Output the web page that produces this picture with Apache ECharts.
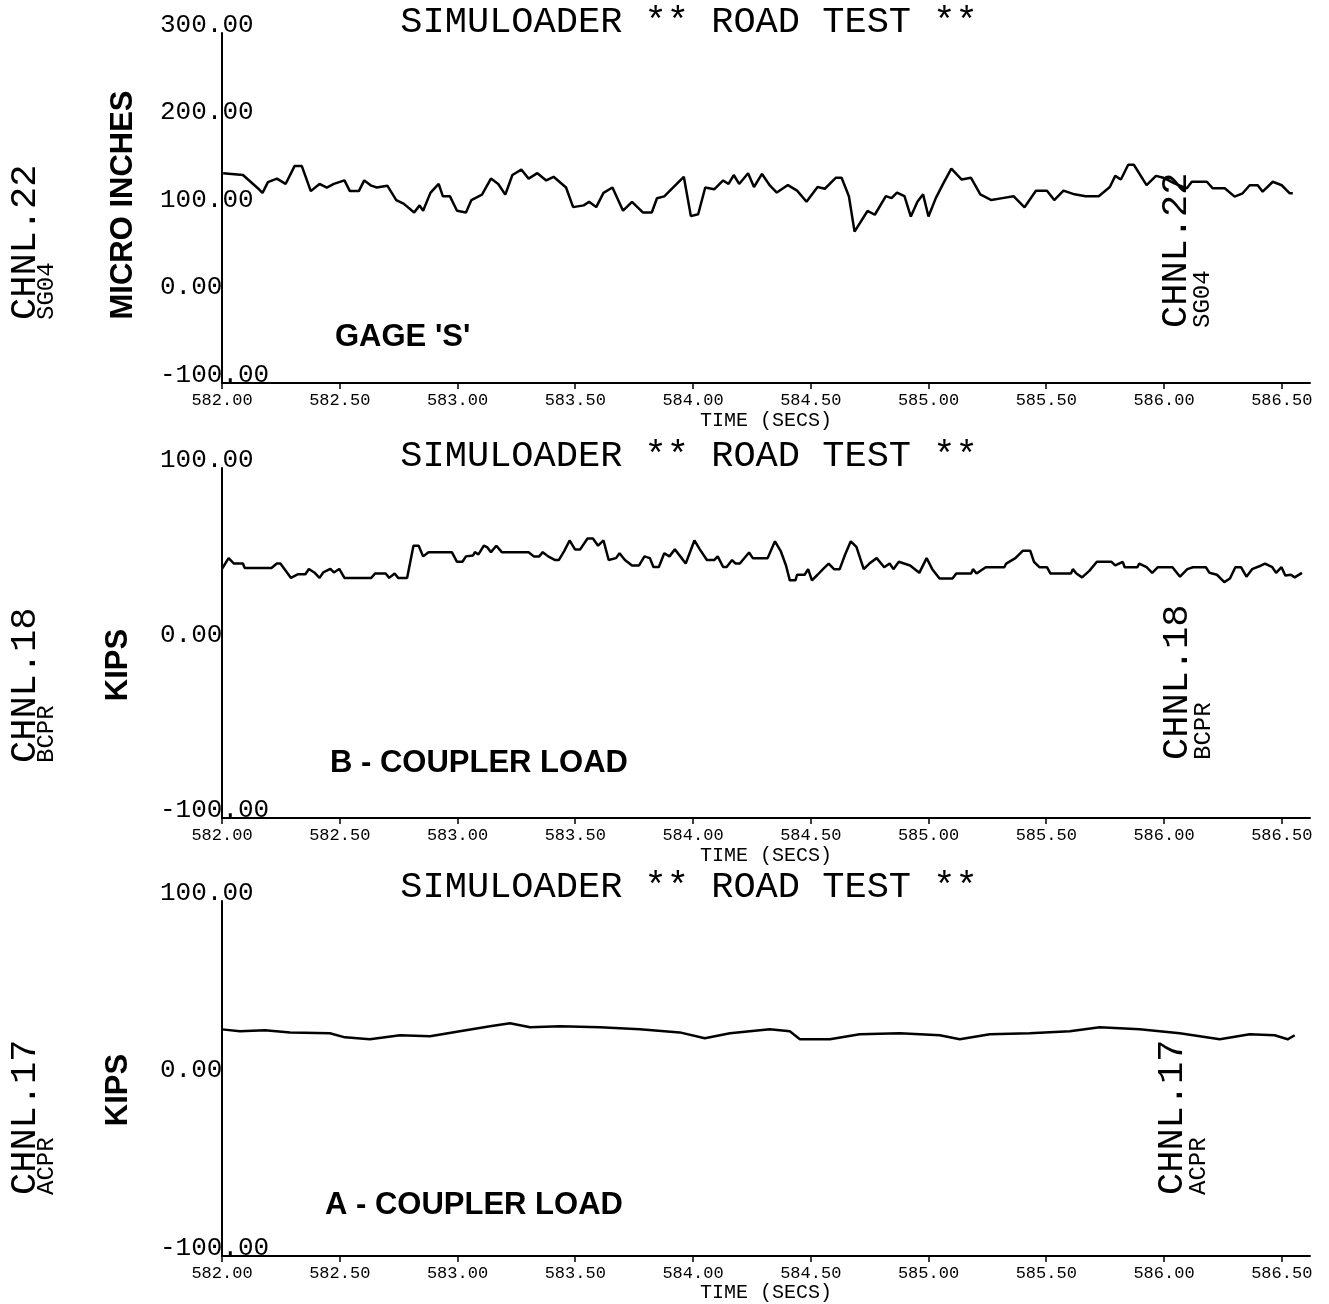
<!DOCTYPE html>
<html><head><meta charset="utf-8">
<script src="https://cdn.jsdelivr.net/npm/echarts@6/dist/echarts.min.js"></script>
<style>html,body{margin:0;padding:0;background:#fff}#c{width:1329px;height:1304px}</style>
</head><body><div id="c"></div>
<script>
// ---------- DATA ----------
const chartTitle = "SIMULOADER ** ROAD TEST **";
const xTitle = "TIME (SECS)";
const timeMin = 582, timeMax = 586.62, timeStep = 0.5;

// Channel 22 - Gage 'S' (micro inches)
const gageTime = [582.005,582.089,582.157,582.172,582.195,582.233,582.270,582.308,582.339,582.377,
582.414,582.445,582.475,582.520,582.543,582.581,582.604,582.634,582.657,582.702,
582.740,582.771,582.816,582.839,582.854,582.885,582.920,582.938,582.968,582.998,
583.036,583.059,583.104,583.142,583.173,583.203,583.233,583.271,583.302,583.339,
583.377,583.408,583.461,583.491,583.536,583.559,583.589,583.620,583.658,583.703,
583.741,583.787,583.825,583.847,583.878,583.931,583.961,583.991,584.022,584.052,
584.090,584.128,584.151,584.173,584.196,584.234,
584.259,584.293,584.325,584.356,584.403,584.442,584.482,584.529,584.560,584.607,
584.631,584.662,584.686,584.741,584.772,584.819,584.843,584.866,584.898,584.925,
584.953,584.977,585.000,585.031,585.063,585.097,585.141,585.180,585.220,585.267,
585.314,585.361,585.408,585.456,585.503,585.534,585.573,585.620,585.667,585.723,
585.770,585.793,585.817,585.848,585.872,585.926,585.966,585.997,586.044,
586.097,586.118,586.182,586.207,586.258,586.300,586.334,586.364,586.398,586.419,
586.462,586.500,586.534,586.547];
const gageValue = [139.8,137.7,121.4,117.3,129.6,133.6,127.5,147.9,147.9,119.3,
127.5,123.4,127.5,131.5,119.3,119.3,131.5,125.5,123.4,125.5,
109.1,105,94.9,103,96.9,117.3,127.5,113.3,113.3,96.9,
94.9,109.1,115.3,133.6,127.5,115.3,137.7,143.9,133.6,139.8,
131.5,135.7,123.4,101,103,107.1,101,117.3,123.4,96.9,
107.1,94.9,94.9,111.2,113.3,127.5,135.7,90.7,92.8,123.4,
121.4,131.5,127.5,137.7,127.5,139.8,
124,138.9,126.2,117.7,126.2,119.8,107.1,124,122,134.6,
134.6,113.5,73,96.6,92.3,113.5,111.3,117.7,113.5,90.2,
107.1,115.6,90.2,111.3,128.2,145.1,132.5,134.6,115.6,109.1,
111.3,113.5,100.8,119.8,119.8,109.1,119.8,115.6,113.5,113.5,
124,136.7,132.5,149.4,149.4,126.2,136.7,134.6,128.2,
122.5,130,130,122.5,122.5,113,116.8,126,126,118.6,
130,126,116.8,116.8];

// Channel 18 - B coupler load (kips)
const bTime = [582.000,582.028,582.051,582.089,582.096,582.210,582.233,582.248,582.293,582.323,
582.354,582.369,582.392,582.414,582.430,582.460,582.475,582.498,582.520,582.634,
582.650,582.695,582.710,582.733,582.748,582.786,582.813,582.835,582.854,582.877,
582.976,582.998,583.021,583.036,583.066,583.074,583.089,583.112,583.127,583.142,
583.165,583.188,583.302,583.324,583.347,583.362,583.385,583.415,583.430,583.453,
583.476,583.499,583.521,583.552,583.575,583.597,583.620,583.642,583.673,583.688,
583.711,583.741,583.771,583.794,583.817,583.832,583.855,583.878,583.900,583.923,
583.946,583.969,584.006,584.029,584.059,584.090,584.105,584.128,584.143,584.166,
584.181,584.199,584.238,584.254,584.317,584.348,584.372,584.395,584.411,584.435,
584.442,584.474,584.489,584.505,584.529,584.552,584.576,584.599,584.623,584.646,
584.670,584.694,584.725,584.749,584.780,584.812,584.835,584.851,584.874,584.922,
584.961,584.992,585.016,585.047,585.102,585.118,585.181,585.189,585.204,585.243,
585.322,585.330,585.369,585.400,585.432,585.448,585.471,585.503,585.518,585.605,
585.613,585.628,585.652,585.683,585.715,585.777,585.793,585.825,585.833,585.887,
585.895,585.926,585.950,585.974,586.036,586.068,586.099,586.123,586.178,586.193,
586.225,586.256,586.280,586.303,586.327,586.350,586.374,586.413,586.429,586.460,
586.476,586.499,586.515,586.539,586.555,586.586];
const bValue = [42.3,48.5,45.4,45.4,42.9,42.9,45.4,45.4,37.2,39.3,
39.3,42.3,40.3,37.2,40.3,42.3,40.3,42.3,37.2,37.2,
39.7,39.7,37.2,39.7,37.2,37.2,55.6,55.6,49.5,51.9,
51.9,46.4,46.4,49.5,50,51.9,50.6,55.6,54.6,51.9,
55.6,51.9,51.9,49.5,49.5,51.9,49.5,47.4,47.4,52.5,
58.6,53.5,53.5,59.7,59.7,55.6,58.6,47.4,48.5,51.3,
47.4,44.3,44.3,49.5,48.5,43.4,43.4,51.3,49.5,53.5,
49.5,45.4,58.6,53.5,47.4,47.4,49.5,43.4,43.4,47.4,
45.4,45.4,51.7,48.5,48.5,58.1,52.7,44.3,35.8,35.8,
39,39,42.2,35.8,39,42.2,45.4,42.2,42.2,50.6,
58.1,54.9,42.2,45.4,48.5,43.3,45.4,42.2,46.4,44.3,
40.1,48.5,42.2,36.9,36.9,39.7,39.7,42.2,39.7,43.3,
43.3,45.4,48.5,52.7,52.7,46.4,43.3,43.3,39.7,39.7,
42.2,39.7,37.5,41.2,46.4,46.4,44.3,46.4,43.3,43.3,
45.4,43.3,40.1,43.3,43.3,37.9,42.2,43.3,43.3,40.1,
39,34.8,36.9,43.3,43.3,37.9,42.2,44.3,45.4,43.3,
40.1,43.3,38.6,39,37.5,40.1];

// Channel 17 - A coupler load (kips)
const aTime = [582.000,582.076,582.183,582.289,582.458,582.522,582.628,582.756,582.883,583.010,
583.138,583.223,583.308,583.435,583.605,583.774,583.944,584.050,584.157,584.326,
584.411,584.454,584.581,584.708,584.878,585.048,585.133,585.260,585.430,585.600,
585.727,585.897,586.067,586.237,586.364,586.470,586.525,586.555];
const aValue = [27.7,26.6,27.2,26,25.5,23.2,22.1,24.4,23.8,26.6,
29.4,31.1,28.9,29.4,28.9,27.7,26,22.7,25.5,27.7,
26.6,22.1,22.1,24.9,25.5,24.4,22.1,24.9,25.5,26.6,
28.9,27.7,25.5,22.1,24.9,24.4,22.1,24.4];

const yTicks = [[-100,300],[-100,100],[-100,100]];
const yNames = ["MICRO INCHES","KIPS","KIPS"];
const plotLabels = ["GAGE 'S'","B - COUPLER LOAD","A - COUPLER LOAD"];
const chanNames = ["CHNL.22","CHNL.18","CHNL.17"];
const chanSubs = ["SG04","BCPR","ACPR"];

// ---------- LAYOUT ----------
const grids = [
  {left:222, top:33, width:1088, height:350},
  {left:222, top:468, width:1088, height:350},
  {left:222, top:901, width:1088, height:357}
];
const MONO = "'Liberation Mono','DejaVu Sans Mono',monospace";
const SANS = "'Liberation Sans',Arial,sans-serif";

function zip(t,v){return t.map((x,i)=>[x,v[i]]);}

const xAxes = grids.map((g,i)=>({
  type:'value', gridIndex:i, min:timeMin, max:timeMax, interval:timeStep,
  axisLine:{onZero:false,lineStyle:{color:'#000',width:2}},
  axisTick:{show:true,length:6,lineStyle:{color:'#000',width:1.5}},
  splitLine:{show:false},
  axisLabel:{color:'#000',fontFamily:MONO,fontSize:17,margin:9,showMaxLabel:false,
    formatter:v=>v.toFixed(2)},
  name:xTitle, nameLocation:'middle', nameGap:i===2?24:28,
  nameTextStyle:{color:'#000',fontFamily:MONO,fontSize:20}
}));
const yAxes = grids.map((g,i)=>({
  type:'value', gridIndex:i, min:yTicks[i][0], max:yTicks[i][1], interval:100,
  axisLine:{show:true,onZero:false,lineStyle:{color:'#000',width:2}},
  axisTick:{show:false}, splitLine:{show:false},
  axisLabel:{color:'#000',fontFamily:MONO,fontSize:26,align:'left',margin:62,
    verticalAlign:'bottom',lineHeight:16,formatter:v=>v.toFixed(2)}
}));

const seriesData = [zip(gageTime,gageValue), zip(bTime,bValue), zip(aTime,aValue)];
const series = seriesData.map((d,i)=>({
  type:'line', xAxisIndex:i, yAxisIndex:i, data:d, showSymbol:false,
  lineStyle:{color:'#000',width:2.5}, silent:true
}));

function txt(x,y,text,font,align,va,rot){
  return {type:'text',x:x,y:y,rotation:rot||0,silent:true,
    style:{text:text,font:font,fill:'#000',align:align||'center',verticalAlign:va||'middle'}};
}
const R = Math.PI/2;
const titleY = [22,456,887];
const yNameY = [205,665,1090];
const yNameX = [123,118,118];
const plotLabelPos = [[335,337],[330,763],[325,1205]];
const chanBottom = [320,763,1195];
const chanRightBottom = [328,760,1195];
const chanRightX = [1176,1177,1172];

const graphics = [];
for(let i=0;i<3;i++){
  graphics.push(txt(689,titleY[i],chartTitle,"37px "+MONO,'center','middle'));
  graphics.push(txt(yNameX[i],yNameY[i],yNames[i],"bold 31px "+SANS,'center','middle',R));
  graphics.push(txt(plotLabelPos[i][0],plotLabelPos[i][1],plotLabels[i],"bold 31px "+SANS,'left','middle'));
  graphics.push(txt(25,chanBottom[i],chanNames[i],"37px "+MONO,'left','middle',R));
  graphics.push(txt(47,chanBottom[i],chanSubs[i],"24px "+MONO,'left','middle',R));
  graphics.push(txt(chanRightX[i],chanRightBottom[i],chanNames[i],"37px "+MONO,'left','middle',R));
  graphics.push(txt(chanRightX[i]+27,chanRightBottom[i],chanSubs[i],"24px "+MONO,'left','middle',R));
}

const chart = echarts.init(document.getElementById('c'),null,{renderer:'canvas'});
chart.setOption({
  animation:false, backgroundColor:'#fff',
  grid:grids, xAxis:xAxes, yAxis:yAxes, series:series, graphic:graphics
});
</script></body></html>
